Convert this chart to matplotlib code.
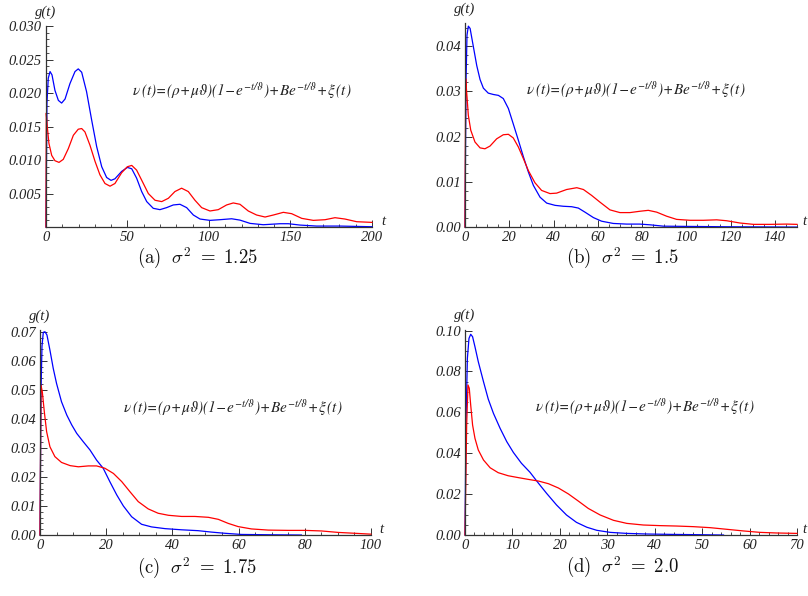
import numpy as np
import matplotlib
matplotlib.use("Agg")
import matplotlib.pyplot as plt
from matplotlib.ticker import MultipleLocator, FixedLocator, FormatStrFormatter

plt.rcParams['font.family'] = ['Liberation Serif', 'DejaVu Serif']
plt.rcParams['font.style'] = 'italic'
plt.rcParams['mathtext.fontset'] = 'cm'

# --- data: (t, g) pairs for each panel ---
# panel (a) sigma^2 = 1.25
t_a_blue = [0, 0.6, 1.4, 2.5, 3.7, 5.5, 7.6, 9.6, 11.7, 14.7, 17.8, 19.8, 21.9, 24.9, 28.0,
            31.1, 34.2, 37.2, 39.9, 42.3, 46.4, 49.9, 52.6, 55.6, 58.7, 61.8, 65.8, 69.9,
            74.0, 78.1, 82.2, 86.3, 90.4, 94.5, 100.6, 106.7, 113.9, 119, 125.2, 133.3,
            143.6, 148.7, 155.8, 166, 180.4, 200]
g_a_blue = [0, 0.0185, 0.0222, 0.0232, 0.0227, 0.0204, 0.0189, 0.0185, 0.0191, 0.0214, 0.0232,
            0.0236, 0.0231, 0.0202, 0.0160, 0.0120, 0.0090, 0.0074, 0.00697, 0.0072, 0.0083,
            0.0089, 0.0087, 0.0073, 0.0053, 0.0038, 0.0028, 0.0026, 0.0029, 0.0033, 0.0034,
            0.0029, 0.0018, 0.0012, 0.0010, 0.0011, 0.00124, 0.00104, 0.00055, 0.00035,
            0.0005, 0.0005, 0.0003, 0.00015, 0.00015, 0.00005]
t_a_red = [0, 0.2, 0.8, 1.8, 3.5, 5.5, 8.0, 10.6, 13.7, 16.8, 19.8, 21.9, 23.9, 27.0, 30.1,
           33.1, 36.2, 39.3, 42.3, 46.4, 49.9, 52.6, 55.6, 58.7, 62.8, 66.9, 71.0, 75.1,
           79.1, 83.2, 87.3, 91.4, 95.5, 100.6, 105.7, 110.8, 114.9, 119.0, 124.1, 129.2,
           134.4, 139.5, 145.6, 150.7, 156.9, 164, 171.2, 177.3, 183.4, 190.6, 200]
g_a_red = [0, 0.017, 0.015, 0.0125, 0.0107, 0.0099, 0.00965, 0.0101, 0.0117, 0.0137, 0.0146,
           0.0147, 0.0142, 0.0122, 0.0098, 0.0078, 0.0065, 0.0061, 0.0065, 0.0081, 0.0090,
           0.0092, 0.0085, 0.0070, 0.0050, 0.0040, 0.0038, 0.0043, 0.0053, 0.0058, 0.0053,
           0.0040, 0.0029, 0.0024, 0.0026, 0.0033, 0.0036, 0.0034, 0.0024, 0.0018, 0.0015,
           0.0018, 0.0022, 0.0020, 0.0013, 0.0010, 0.0011, 0.0014, 0.0012, 0.0008, 0.0007]

# panel (b) sigma^2 = 1.5
t_b_blue = [0, 0.45, 0.9, 1.5, 2.3, 3.8, 5.3, 6.8, 8.3, 10.5, 12.8, 15.1, 17.3, 19.6, 21.8,
            24.1, 26.4, 28.6, 30.9, 33.9, 36.9, 40.7, 44.4, 48.2, 51.2, 54.2, 58.0, 61.7,
            67, 73, 79, 83.6, 89.6, 100, 118, 150]
g_b_blue = [0, 0.032, 0.0424, 0.0444, 0.0439, 0.0398, 0.0357, 0.0326, 0.0307, 0.0296, 0.0293,
            0.0291, 0.0284, 0.0262, 0.0228, 0.0192, 0.0155, 0.0122, 0.0092, 0.0066, 0.0053,
            0.0048, 0.0046, 0.0045, 0.0042, 0.0033, 0.0021, 0.0013, 0.0008, 0.00066,
            0.00066, 0.0005, 0.0002, 0.00015, 0.00007, 0.0]
t_b_red = [0, 0.3, 0.75, 1.5, 2.6, 4.5, 6.8, 9.0, 11.3, 14.3, 17.3, 19.6, 21.8, 24.1, 26.4,
           28.6, 31.6, 34.6, 38.4, 41.4, 45.9, 50.5, 53.5, 57.2, 61.0, 65.5, 70.0, 74.5,
           79.1, 82.8, 86.6, 91.1, 95.6, 101.7, 107.7, 113.7, 118.2, 124.2, 130.3, 137.8,
           145.3, 150]
g_b_red = [0, 0.0328, 0.0298, 0.0247, 0.0214, 0.0188, 0.0175, 0.0173, 0.0179, 0.0195, 0.0204,
           0.0205, 0.0197, 0.0177, 0.0151, 0.0125, 0.0098, 0.0081, 0.0074, 0.0075, 0.0083,
           0.0087, 0.0083, 0.0070, 0.0055, 0.0038, 0.0032, 0.0032, 0.0035, 0.0037, 0.0033,
           0.0024, 0.0017, 0.0015, 0.0015, 0.0016, 0.0014, 0.0009, 0.0006, 0.0006, 0.00066,
           0.0006]

# panel (c) sigma^2 = 1.75
t_c_blue = [0, 0.3, 0.6, 1.0, 1.5, 2.1, 3.0, 4.0, 5.0, 6.5, 8.1, 9.6, 11.1, 13.1, 15.1, 17.1,
            19.1, 21.1, 23.2, 25.2, 27.7, 30.7, 33.7, 37.8, 42.8, 47.8, 51.9, 55.9, 60.9,
            69, 79]
g_c_blue = [0, 0.049, 0.065, 0.0698, 0.070, 0.0689, 0.0637, 0.0574, 0.0522, 0.0459, 0.0413,
            0.0379, 0.0350, 0.0321, 0.0293, 0.0258, 0.0230, 0.0184, 0.0138, 0.0100, 0.0063,
            0.0037, 0.0028, 0.0022, 0.0018, 0.0015, 0.0010, 0.0006, 0.0002, 0.0001, 0.0]
t_c_red = [0, 0.3, 0.7, 1.3, 2.0, 3.0, 4.5, 6.5, 9.1, 11.6, 14.6, 17.1, 19.6, 22.2, 24.7,
           27.2, 29.7, 32.7, 35.7, 38.8, 42.8, 46.8, 50.9, 53.9, 56.9, 59.9, 63.9, 69.0,
           75.0, 80.1, 85.1, 90.1, 95.2, 100]
g_c_red = [0, 0.0516, 0.0493, 0.0425, 0.0356, 0.0304, 0.0270, 0.0250, 0.0239, 0.0235, 0.0238,
           0.0238, 0.0230, 0.0212, 0.0184, 0.0149, 0.0115, 0.0090, 0.0075, 0.0068, 0.0064,
           0.0064, 0.0061, 0.0054, 0.0040, 0.0029, 0.0021, 0.0017, 0.0016, 0.0016, 0.0014,
           0.0009, 0.0006, 0.0003]

# panel (d) sigma^2 = 2.0
t_d_blue = [0, 0.2, 0.5, 0.84, 1.2, 1.6, 2.1, 2.8, 3.9, 4.9, 6.0, 7.4, 8.8, 10.2, 11.9, 13.7,
            15.5, 17.2, 19.3, 21.4, 23.5, 25.7, 27.8, 30.6, 34.1, 38.3, 43.9, 49.5, 54.5]
g_d_blue = [0, 0.054, 0.0864, 0.0962, 0.0982, 0.097, 0.0921, 0.0848, 0.0750, 0.0665, 0.0595,
            0.0522, 0.0457, 0.0404, 0.0351, 0.0307, 0.0253, 0.0204, 0.0147, 0.0098, 0.0062,
            0.0038, 0.0023, 0.0013, 0.0008, 0.0005, 0.0003, 0.00016, 0.0]
t_d_red = [0, 0.35, 0.63, 0.9, 1.2, 1.6, 2.1, 2.8, 3.9, 5.3, 7.0, 9.1, 11.2, 13.4, 15.5, 17.6,
           19.7, 21.8, 23.9, 26.0, 28.5, 31.3, 34.1, 37.6, 41.1, 44.6, 48.1, 51.7, 55.2,
           58.7, 62.2, 65.7, 70]
g_d_red = [0, 0.054, 0.0734, 0.0718, 0.0636, 0.0538, 0.0473, 0.0416, 0.0367, 0.0329, 0.0305,
           0.0290, 0.0281, 0.0272, 0.0264, 0.0251, 0.0230, 0.0201, 0.0166, 0.0130, 0.0098,
           0.0072, 0.0057, 0.0049, 0.0046, 0.0044, 0.0041, 0.0036, 0.0028, 0.0020, 0.0013,
           0.0010, 0.0008]

captions = [r'$\mathrm{(a)}\ \ \sigma^2\ =\ 1.25$', r'$\mathrm{(b)}\ \ \sigma^2\ =\ 1.5$',
            r'$\mathrm{(c)}\ \ \sigma^2\ =\ 1.75$', r'$\mathrm{(d)}\ \ \sigma^2\ =\ 2.0$']
formula = (r'$\nu\,(t)\!=\!(\rho\!+\!\mu\vartheta)(\mathit{1}\!-\!e^{-t/\vartheta})'
           r'\!+\!Be^{-t/\vartheta}\!+\!\xi\,(t)$')

panels = [
    dict(tb=t_a_blue, gb=g_a_blue, tr=t_a_red, gr=g_a_red, xlim=200, ylim=0.030,
         xmaj=50, xmin=10, ymaj=0.005, ymin=0.001, fmt='%.3f', skip0=True, tx=11,
         rect=[0.0569, 0.619, 0.4035, 0.3374], fpos=(0.264, 0.677), cap=(0.2438, 0.567)),
    dict(tb=t_b_blue, gb=g_b_blue, tr=t_b_red, gr=g_b_red, xlim=150, ylim=0.045,
         xmaj=20, xmin=5, ymaj=0.01, ymin=0.002, fmt='%.2f', skip0=False, tx=7,
         rect=[0.5755, 0.619, 0.4109, 0.3417], fpos=(0.184, 0.673), cap=(0.7698, 0.567)),
    dict(tb=t_c_blue, gb=g_c_blue, tr=t_c_red, gr=g_c_red, xlim=100, ylim=0.0705,
         xmaj=20, xmin=5, ymaj=0.01, ymin=0.002, fmt='%.2f', skip0=False, tx=11,
         rect=[0.0495, 0.1023, 0.4095, 0.3435], fpos=(0.251, 0.625), cap=(0.2438, 0.047)),
    dict(tb=t_d_blue, gb=g_d_blue, tr=t_d_red, gr=g_d_red, xlim=70, ylim=0.1005,
         xmaj=10, xmin=2, ymaj=0.02, ymin=0.005, fmt='%.2f', skip0=False, tx=7,
         rect=[0.5755, 0.1023, 0.4109, 0.3447], fpos=(0.211, 0.627), cap=(0.7698, 0.0487)),
]

fig = plt.figure(figsize=(8.08, 5.96), dpi=100)

for i, p in enumerate(panels):
    ax = fig.add_axes(p['rect'])
    ax.plot(p['tb'], p['gb'], color='blue', lw=0.9, clip_on=False)
    ax.plot(p['tr'], p['gr'], color='red', lw=0.9, clip_on=False)
    ax.set_xlim(0, p['xlim'])
    ax.set_ylim(0, p['ylim'])

    for s in ['top', 'right']:
        ax.spines[s].set_visible(False)
    for s in ['left', 'bottom']:
        ax.spines[s].set_color('#333333')
        ax.spines[s].set_linewidth(0.9)

    ax.xaxis.set_major_locator(MultipleLocator(p['xmaj']))
    ax.xaxis.set_minor_locator(MultipleLocator(p['xmin']))
    yt = np.arange(0, p['ylim'] + 1e-9, p['ymaj'])
    if p['skip0']:
        yt = yt[1:]
    ax.yaxis.set_major_locator(FixedLocator(yt))
    ax.yaxis.set_minor_locator(MultipleLocator(p['ymin']))
    ax.yaxis.set_major_formatter(FormatStrFormatter(p['fmt']))
    ax.tick_params(which='major', direction='in', length=5, width=0.7, color='#333333',
                   labelsize=10.5, labelcolor='#222222', pad=3)
    ax.tick_params(which='minor', direction='in', length=2.5, width=0.6, color='#333333')

    ax.annotate('g(t)', xy=(0, 1), xycoords='axes fraction', xytext=(0, 14),
                textcoords='offset pixels', ha='center', va='center',
                fontsize=10.5, color='#222222', annotation_clip=False)
    ax.annotate('t', xy=(1, 0), xycoords='axes fraction', xytext=(p['tx'], 6),
                textcoords='offset pixels', ha='center', va='center',
                fontsize=10.5, color='#222222', annotation_clip=False)

    ax.text(p['fpos'][0], p['fpos'][1], formula, transform=ax.transAxes,
            ha='left', va='center', fontsize=11, math_fontfamily='stix', color='#222222')

    fig.text(p['cap'][0], p['cap'][1], captions[i], ha='center', va='center',
             fontsize=13.5, style='normal', color='#111111')

fig.savefig('out.png', dpi=100)
